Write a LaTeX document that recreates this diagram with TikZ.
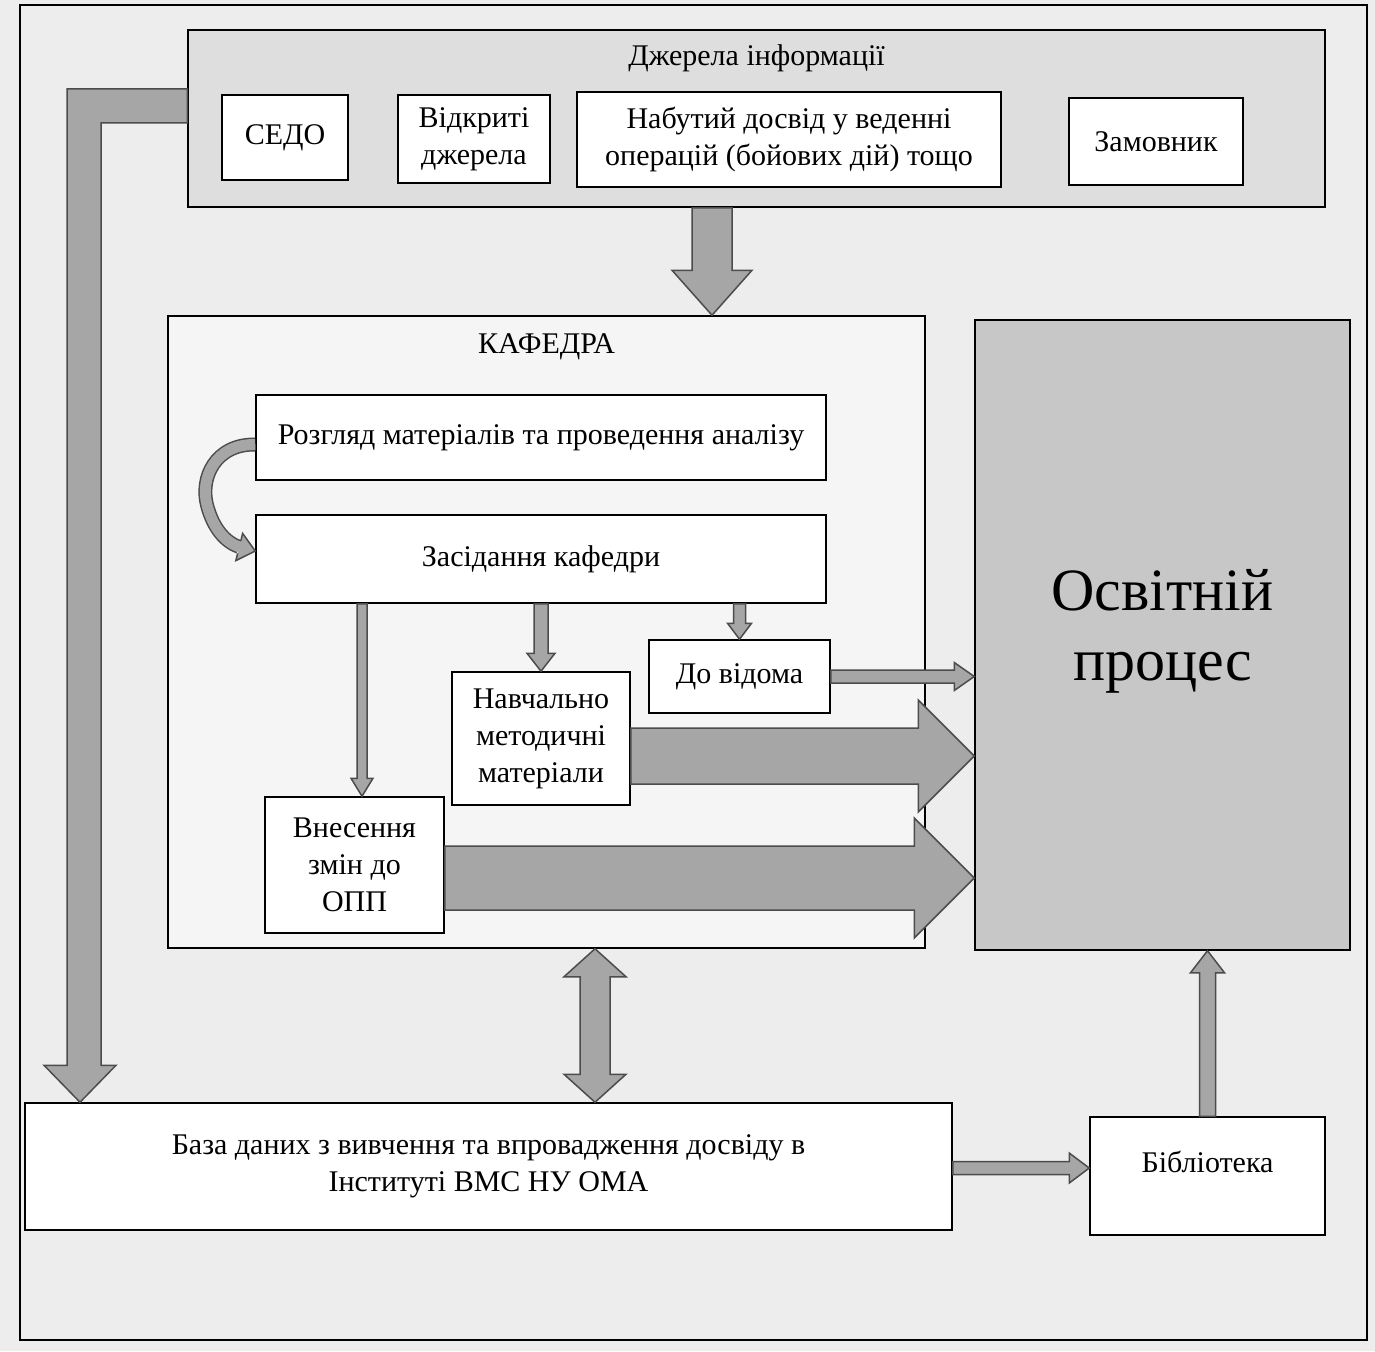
\documentclass[tikz,border=0pt]{standalone}
\usepackage{fontspec}
\setmainfont{Liberation Serif}
\usetikzlibrary{calc}
\usetikzlibrary{positioning}

\newcommand{\fatmeasure}[2]{%
  \path let \p1=(#1), \p2=(#2) in \pgfextra{%
    \pgfmathsetmacro{\fatlen}{veclen(\x2-\x1,\y2-\y1)}%
    \pgfmathsetmacro{\fatang}{atan2(\y2-\y1,\x2-\x1)}%
    \global\let\fatlen\fatlen
    \global\let\fatang\fatang};
}
% block arrow: [style]{from}{to}{half shaft}{half head}{head length}
\newcommand{\fatarrow}[6][]{%
  \fatmeasure{#2}{#3}
  \filldraw[fatarr,#1,shift={(#2)},rotate=\fatang]
    (0pt,#4pt) -- ({\fatlen pt-#6pt},#4pt) -- ({\fatlen pt-#6pt},#5pt)
    -- (\fatlen pt,0pt) -- ({\fatlen pt-#6pt},-#5pt)
    -- ({\fatlen pt-#6pt},-#4pt) -- (0pt,-#4pt) -- cycle;
}
\newcommand{\fatdarrow}[6][]{%
  \fatmeasure{#2}{#3}
  \filldraw[fatarr,#1,shift={(#2)},rotate=\fatang]
    (0pt,0pt) -- (#6pt,#5pt) -- (#6pt,#4pt) -- ({\fatlen pt-#6pt},#4pt)
    -- ({\fatlen pt-#6pt},#5pt) -- (\fatlen pt,0pt) -- ({\fatlen pt-#6pt},-#5pt)
    -- ({\fatlen pt-#6pt},-#4pt) -- (#6pt,-#4pt) -- (#6pt,-#5pt) -- cycle;
}

\begin{document}
\begin{tikzpicture}[x=1pt, y=-1pt,
    box/.style={draw=black, line width=1.5pt, fill=white, align=center, inner sep=0pt},
    fatarr/.style={draw=black!70, fill=black!35, line width=1.5pt, line join=miter},
    font=\fontsize{30}{37}\selectfont]
  \useasboundingbox (0,0) rectangle (1375,1351);
  \fill[black!7] (0,0) rectangle (1375,1351);
  \draw[line width=1.5pt] (20,5) rectangle (1367,1340);

  % sources
  \node[box, fill=black!13, minimum width=1137pt, minimum height=177pt] (dzh) at (756.5,118.5) {};
  \node[below=12pt of dzh.north] (dzht) {Джерела інформації};
  \node[box, minimum width=126pt, minimum height=85pt] (sedo) at (285,137.5) {СЕДО};
  \node[box, minimum width=152pt, minimum height=88pt] (vidkr) at (474,139) {Відкриті\\джерела};
  \node[box, minimum width=424pt, minimum height=95pt] (naby) at (789,139.5) {Набутий досвід у веденні\\операцій (бойових дій) тощо};
  \node[box, minimum width=174pt, minimum height=87pt] (zamov) at (1156,141.5) {Замовник};

  % department
  \node[box, fill=black!4, minimum width=757pt, minimum height=632pt] (kaf) at (546.5,632) {};
  \node[below=15pt of kaf.north] (kaft) {КАФЕДРА};
  \node[box, fill=black!22, minimum width=375pt, minimum height=630pt,
    font=\fontsize{60}{70}\selectfont] (osv) at (1162.5,635) {Освітній\\процес\\[-50pt]~};
  \node[box, minimum width=570pt, minimum height=85pt] (rozgl) at (541,437.5) {Розгляд матеріалів та проведення аналізу};
  \node[box, minimum width=570pt, minimum height=88pt] (zasid) at (541,559) {Засідання кафедри};
  \node[box, minimum width=181pt, minimum height=73pt] (dovid) at (739.5,676.5) {До відома};
  \node[box, minimum width=178pt, minimum height=133pt] (navch) at (541,738.5) {Навчально\\методичні\\матеріали};
  \node[box, minimum width=179pt, minimum height=136pt] (vnes) at (354.5,865) {Внесення\\змін до\\ОПП};

  % bottom row
  \node[box, minimum width=927pt, minimum height=127pt] (baza) at (488.5,1166.5) {База даних з вивчення та впровадження досвіду в\\Інституті ВМС НУ ОМА};
  \node[box, minimum width=235pt, minimum height=118pt] (bibl) at (1207.5,1176) {Бібліотека\\[-9pt]~};

  % arrows
  \fatarrow{dzh.south -| 712,0}{kaf.north -| 712,0}{20}{40}{45}
  \fatarrow{zasid.south -| 362,0}{vnes.north -| 362,0}{5}{11}{18}
  \fatarrow{zasid.south -| navch.north}{navch.north}{7}{14}{18}
  \fatarrow{zasid.south -| dovid.north}{dovid.north}{6}{12}{16}
  \fatarrow{dovid.east}{osv.west |- dovid.east}{6.5}{14}{20}
  \fatarrow{navch.east |- 0,756}{osv.west |- 0,756}{28}{56}{56}
  \fatarrow{vnes.east |- 0,878}{osv.west |- 0,878}{32}{60}{60}
  \fatdarrow{kaf.south -| 595,0}{baza.north -| 595,0}{15}{31}{28}
  \fatarrow{baza.east |- 0,1168}{bibl.west |- 0,1168}{6.5}{15}{20}
  \fatarrow{bibl.north}{osv.south -| bibl.north}{8}{17}{22}

  \coordinate (l1) at (dzh.west |- 0,106);
  \coordinate (l2) at (84,106);
  \coordinate (l3) at (baza.north -| 80,0);
  \filldraw[fatarr] ($(l1)+(0,-17)$) -- ($(l2)+(-17,-17)$) -- ($(l3)+(-13,-37)$)
    -- ($(l3)+(-36,-37)$) -- (l3) -- ($(l3)+(36,-37)$) -- ($(l3)+(21,-37)$)
    -- ($(l2)+(17,17)$) -- ($(l1)+(0,17)$) -- cycle;

  \draw[black!70, line width=1.5pt, double=black!35, double distance=11pt]
    ($(rozgl.west)+(0,7)$) .. controls (215,444) and (200,478) .. (207,505)
    .. controls (213,528) and (225,542) .. ($(zasid.west)+(-16,-12)$);
  \fill[black!35] ($(zasid.west)+(-17.6,-5.7)$) -- ($(zasid.west)+(-19.4,1.6)$) -- ($(zasid.west)+(0,-8)$)
    -- ($(zasid.west)+(-12.6,-25.6)$) -- ($(zasid.west)+(-14.4,-18.3)$) -- cycle;
  \draw[black!70, line width=1.5pt, line join=miter] ($(zasid.west)+(-17.6,-5.7)$) -- ($(zasid.west)+(-19.4,1.6)$)
    -- ($(zasid.west)+(0,-8)$) -- ($(zasid.west)+(-12.6,-25.6)$) -- ($(zasid.west)+(-14.4,-18.3)$);
\end{tikzpicture}
\end{document}
